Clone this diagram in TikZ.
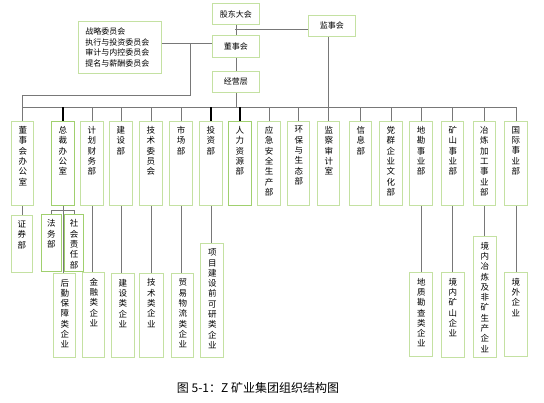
\documentclass[tikz,border=0pt]{standalone}
\usepackage{fontspec}
\setmainfont{Noto Sans CJK SC}
\definecolor{boxgreen}{RGB}{196,225,162}
\definecolor{boxgreenD}{RGB}{160,208,110}
\definecolor{linegray}{RGB}{120,120,120}
\tikzset{
  box/.style={draw=boxgreen, line width=0.9pt, fill=white, inner sep=0pt},
  boxD/.style={box, draw=boxgreenD},
  vlab/.style={anchor=north, yshift=-5.5pt, align=center, inner sep=0pt,
    font=\fontsize{8.5}{10.3}\selectfont},
  hlab/.style={font=\fontsize{8}{10.4}\selectfont},
  ln/.style={draw=linegray, line width=0.8pt},
  thk/.style={draw=black, line width=1.1pt},
}
\newcommand\vb[6][box]{\node[#1, anchor=north west, minimum width=#4pt, minimum height=#5pt,
  label={[vlab]north:{#6}}] (#2) at (#3) {};}
\begin{document}
\begin{tikzpicture}[x=1pt,y=-1pt]
\fill[white] (0,0) rectangle (544,402);
\useasboundingbox (0,0) rectangle (544,402);

% top level
\node[box, hlab, anchor=north west, minimum width=47pt, minimum height=21pt] (gd) at (212,3) {股东大会};
\node[box, hlab, anchor=north west, minimum width=47pt, minimum height=21pt] (jsh) at (308,15) {监事会};
\node[box, hlab, anchor=north west, minimum width=47pt, minimum height=22pt] (dsh) at (212,35) {董事会};
\node[box, hlab, anchor=north west, minimum width=47pt, minimum height=21pt] (jy) at (212,71) {经营层};
\node[box, hlab, anchor=north west, minimum width=83pt, minimum height=52pt, text width=69pt,
  inner xsep=7pt, align=left] (com) at (78,21) {战略委员会\\执行与投资委员会\\审计与内控委员会\\提名与薪酬委员会};

% second row
\vb{b1}{11.3,120.7}{22}{84.6}{董\\事\\会\\办\\公\\室}
\vb[boxD]{b2}{51.3,120.7}{22.4}{84.6}{总\\裁\\办\\公\\室}
\vb{b3}{80.3,120.7}{22.4}{84.6}{计\\划\\财\\务\\部}
\vb{b4}{109.3,120.7}{22.4}{84.6}{建\\设\\部}
\vb{b5}{139.3,120.7}{22.4}{84.6}{技\\术\\委\\员\\会}
\vb{b6}{169.3,120.7}{22.7}{84.6}{市\\场\\部}
\vb{b7}{199.3,120.7}{22.4}{84.6}{投\\资\\部}
\vb[boxD]{b8}{228.3,120.7}{22.4}{84.6}{人\\力\\资\\源\\部}
\vb{b9}{257.3,120.7}{22.7}{84.6}{应\\急\\安\\全\\生\\产\\部}
\vb{b10}{287.3,120.7}{22}{84.6}{环\\保\\与\\生\\态\\部}
\vb{b11}{317.3,120.7}{22}{84.6}{监\\察\\审\\计\\室}
\vb{b12}{349.3,120.7}{22}{84.6}{信\\息\\部}
\vb{b13}{379.3,120.7}{22.4}{84.6}{党\\群\\企\\业\\文\\化\\部}
\vb{b14}{409.3,120.7}{22.7}{84.6}{地\\勘\\事\\业\\部}
\vb{b15}{441.3,120.7}{22}{84.6}{矿\\山\\事\\业\\部}
\vb{b16}{473.3,120.7}{21.4}{84.6}{冶\\炼\\加\\工\\事\\业\\部}
\vb{b17}{504.3,120.7}{22.4}{84.6}{国\\际\\事\\业\\部}

% third row
\vb{c1}{11.3,215}{20.4}{57.3}{证\\券\\部}
\vb[boxD]{c2}{41.3,214}{19.4}{57.3}{法\\务\\部}
\vb[boxD]{c3}{64,214}{19.3}{57.3}{社\\会\\责\\任\\部}
\vb{c4}{53.3,273.3}{22}{84}{后\\勤\\保\\障\\类\\企\\业}
\vb{c5}{82.3,272.3}{22}{85}{金\\融\\类\\企\\业}
\vb{c6}{111.3,273.3}{22.4}{84}{建\\设\\类\\企\\业}
\vb{c7}{139.3,273}{23.4}{84.3}{技\\术\\类\\企\\业}
\vb{c8}{171.3,273}{22}{84.3}{贸\\易\\物\\流\\类\\企\\业}
\vb{c9}{200.3,243.3}{23}{114}{项\\目\\建\\设\\前\\可\\研\\类\\企\\业}
\vb{c10}{409.3,272.3}{23}{84}{地\\质\\勘\\查\\类\\企\\业}
\vb{c11}{441.3,272.3}{22.4}{85}{境\\内\\矿\\山\\企\\业}
\vb{c12}{473.3,236.3}{22.4}{121}{境\\内\\冶\\炼\\及\\非\\矿\\生\\产\\企\\业}
\vb{c13}{504.3,272.3}{22.4}{84}{境\\外\\企\\业}

% connectors, top
\coordinate (j1) at (235.3,29);
\draw[ln] (gd.south) -- (dsh.north);
\draw[ln] (j1) -- (j1 -| jsh.west);
\draw[ln] (dsh.south) -- (jy.north);
\coordinate (k) at (190,43);
\coordinate (k2) at (190,95);
\draw[ln] (com.east |- k) -- (k -| dsh.west);
\draw[ln] (k) -- (k2) -| (b1.north);
\coordinate (bus) at (0,107);
\draw[ln] (b1.north |- bus) -- (b17.north |- bus);
\draw[ln] (jy.south) -- (jy.south |- bus);
\foreach \n in {3,4,5,6,9,10,12,13,14,15,16,17}
  \draw[ln] (b\n.north |- bus) -- (b\n.north);
\foreach \n in {2,7,8}
  \draw[thk] (b\n.north |- bus) -- (b\n.north);
\draw[ln] (b11.north |- jsh.south) -- (b11.north);

% connectors, bottom
\draw[ln] (b1.south) -- (b1.south |- c1.north);
\coordinate (t) at (0,210);
\draw[ln] (b2.south) -- (b2.south |- c4.north);
\draw[ln] (c2.north |- t) -- (c3.north |- t);
\draw[ln] (c2.north |- t) -- (c2.north);
\draw[ln] (c3.north |- t) -- (c3.north);
\draw[ln] (b3.south) -- (b3.south |- c5.north);
\draw[ln] (b4.south) -- (b4.south |- c6.north);
\draw[ln] (b5.south) -- (b5.south |- c7.north);
\draw[ln] (b6.south) -- (b6.south |- c8.north);
\draw[ln] (b7.south) -- (b7.south |- c9.north);
\draw[ln] (b14.south) -- (b14.south |- c10.north);
\draw[ln] (b15.south) -- (b15.south |- c11.north);
\draw[ln] (b16.south) -- (b16.south |- c12.north);
\draw[ln] (b17.south) -- (b17.south |- c13.north);

% caption
\node[font=\fontsize{12}{14}\selectfont] (cap) at (258,388) {图 5-1：Z 矿业集团组织结构图};
\end{tikzpicture}
\end{document}
